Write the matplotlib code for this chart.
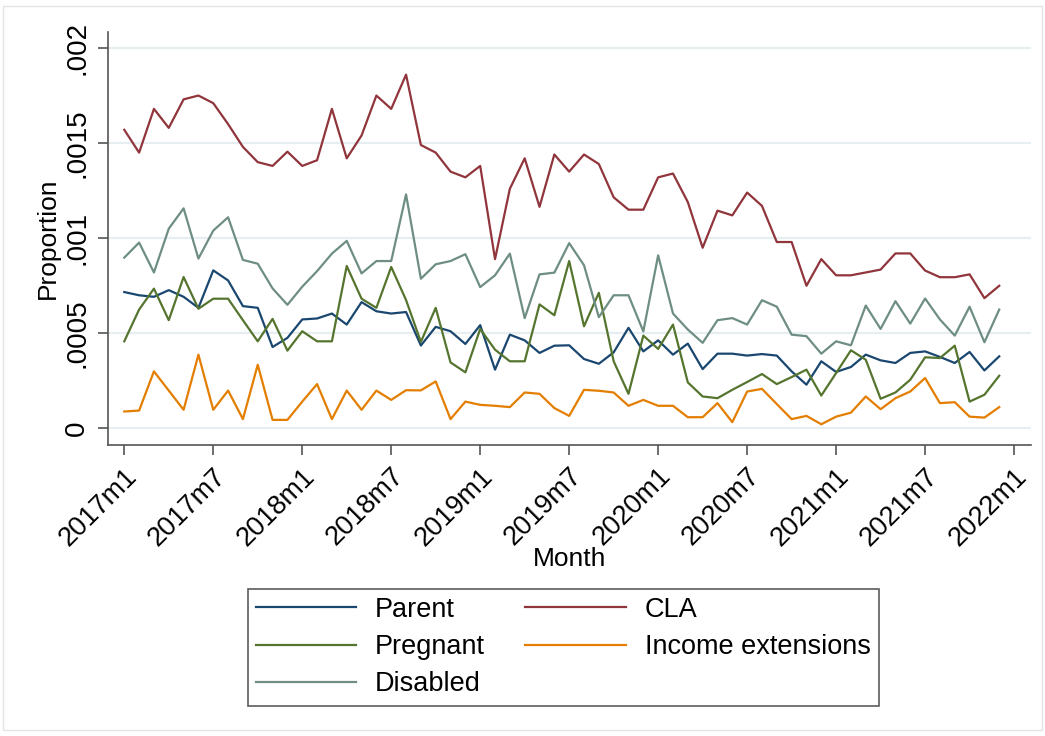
import numpy as np
import matplotlib
matplotlib.use('Agg')
import matplotlib.pyplot as plt
from matplotlib.patches import Rectangle
from matplotlib.transforms import ScaledTranslation

plt.rcParams['font.family'] = ['Liberation Sans', 'DejaVu Sans']

# monthly values, 2017m1 .. 2021m12 (units of 1e-4)
parent = [7.17, 7.0, 6.92, 7.27, 6.92, 6.34, 8.31, 7.78, 6.43, 6.34,
          4.28, 4.76, 5.73, 5.78, 6.04, 5.46, 6.64, 6.16, 6.04, 6.12,
          4.36, 5.34, 5.11, 4.44, 5.43, 3.09, 4.93, 4.63, 3.97, 4.35,
          4.37, 3.65, 3.4, 4.0, 5.29, 4.05, 4.63, 3.88, 4.46, 3.12,
          3.93, 3.93, 3.83, 3.91, 3.83, 3.0, 2.3, 3.53, 2.97, 3.23,
          3.88, 3.58, 3.44, 3.97, 4.05, 3.76, 3.44, 4.02, 3.05, 3.79]
cla = [15.7, 14.5, 16.8, 15.8, 17.3, 17.5, 17.1, 16.0, 14.8, 14.0,
       13.8, 14.55, 13.8, 14.1, 16.8, 14.2, 15.4, 17.5, 16.8, 18.6,
       14.9, 14.5, 13.5, 13.2, 13.8, 8.9, 12.6, 14.2, 11.65, 14.4,
       13.5, 14.4, 13.9, 12.15, 11.5, 11.5, 13.2, 13.4, 11.9, 9.5,
       11.45, 11.2, 12.4, 11.7, 9.8, 9.8, 7.5, 8.9, 8.05, 8.05,
       8.2, 8.35, 9.2, 9.2, 8.3, 7.95, 7.95, 8.1, 6.85, 7.5]
pregnant = [4.58, 6.25, 7.35, 5.69, 7.96, 6.29, 6.82, 6.82, 5.69, 4.58,
            5.76, 4.09, 5.11, 4.58, 4.58, 8.54, 6.82, 6.34, 8.49, 6.75,
            4.55, 6.34, 3.47, 2.95, 5.23, 4.14, 3.53, 3.53, 6.52, 5.95,
            8.8, 5.37, 7.13, 3.53, 1.82, 4.88, 4.18, 5.46, 2.42, 1.68,
            1.59, 2.03, 2.44, 2.86, 2.33, 2.7, 3.09, 1.73, 2.91, 4.11,
            3.61, 1.56, 1.89, 2.56, 3.74, 3.7, 4.35, 1.41, 1.77, 2.77]
income = [0.89, 0.94, 3.0, 1.99, 0.98, 3.88, 0.98, 1.99, 0.49, 3.35,
          0.45, 0.45, 1.41, 2.33, 0.49, 1.99, 0.98, 1.99, 1.5, 2.01,
          2.0, 2.47, 0.49, 1.41, 1.24, 1.19, 1.12, 1.89, 1.82, 1.07,
          0.66, 2.03, 1.98, 1.89, 1.19, 1.5, 1.19, 1.19, 0.59, 0.59,
          1.33, 0.33, 1.94, 2.08, 1.28, 0.49, 0.66, 0.22, 0.62, 0.83,
          1.68, 1.01, 1.59, 1.94, 2.65, 1.33, 1.38, 0.62, 0.57, 1.12]
disabled = [8.98, 9.77, 8.2, 10.5, 11.57, 8.93, 10.4, 11.1, 8.86, 8.66,
            7.36, 6.5, 7.45, 8.27, 9.19, 9.86, 8.15, 8.8, 8.8, 12.3,
            7.87, 8.63, 8.8, 9.16, 7.43, 8.05, 9.19, 5.8, 8.1, 8.19,
            9.74, 8.58, 5.85, 7.0, 7.0, 5.1, 9.1, 6.04, 5.2, 4.5,
            5.69, 5.8, 5.46, 6.74, 6.4, 4.93, 4.85, 3.93, 4.58, 4.37,
            6.46, 5.23, 6.69, 5.51, 6.83, 5.73, 4.88, 6.4, 4.53, 6.25]

x_labels = ['2017m1', '2017m7', '2018m1', '2018m7', '2019m1', '2019m7',
            '2020m1', '2020m7', '2021m1', '2021m7', '2022m1']
y_ticks = [0, 0.0005, 0.001, 0.0015, 0.002]
y_labels = ['0', '.0005', '.001', '.0015', '.002']

months = np.arange(len(parent))
scale = 1e-4

fig = plt.figure(figsize=(10.45, 7.36), dpi=100)
ax = fig.add_axes([0.1036, 0.3954, 0.8827, 0.5611])

series = [
    ('Parent', parent, '#1a476f'),
    ('CLA', cla, '#90353b'),
    ('Pregnant', pregnant, '#55752f'),
    ('Income extensions', income, '#e37e00'),
    ('Disabled', disabled, '#6e8e84'),
]
handles = {}
for name, vals, col in series:
    h, = ax.plot(months, np.array(vals) * scale, color=col, lw=1.6, label=name)
    handles[name] = h

ax.set_xlim(-1.08, 61.12)
ax.set_ylim(-0.000087, 0.002084)

ax.set_yticks(y_ticks)
ax.set_yticklabels(y_labels, rotation=90, va='center', fontsize=20)
ax.set_xticks(np.arange(0, 61, 6))
ax.set_xticklabels(x_labels, rotation=45, ha='right', rotation_mode='anchor', fontsize=19.5)
# nudge rotated labels a little left so their ends sit under the ticks
shift = ScaledTranslation(-5 / 100, 0, fig.dpi_scale_trans)
for lab in ax.get_xticklabels():
    lab.set_transform(lab.get_transform() + shift)

ax.grid(axis='y', color='#e6eef1', lw=1.6)
ax.set_axisbelow(True)
for s in ['top', 'right']:
    ax.spines[s].set_visible(False)
for s in ['left', 'bottom']:
    ax.spines[s].set_color('#555555')
    ax.spines[s].set_linewidth(1.2)
ax.tick_params(axis='both', direction='out', length=7, width=1.2, color='#555555')
ax.tick_params(axis='y', pad=6)
ax.tick_params(axis='x', pad=6)

ax.set_ylabel('Proportion', fontsize=19, labelpad=3)
ax.set_xlabel('Month', fontsize=19, labelpad=-3)

order = ['Parent', 'Pregnant', 'Disabled', 'CLA', 'Income extensions']
leg = fig.legend([handles[n] for n in order], order, ncol=2, loc='upper center',
                 bbox_to_anchor=(0.5388, 0.2188), fontsize=19.5, frameon=True,
                 fancybox=False, handlelength=3.7, handletextpad=0.7,
                 columnspacing=1.5, labelspacing=0.42, borderpad=0.3)
leg.get_frame().set_edgecolor('#333333')
leg.get_frame().set_linewidth(1.2)

fig.patches.append(Rectangle((0.003, 0.008), 0.994, 0.984, transform=fig.transFigure,
                             fill=False, edgecolor='#e4e4e4', lw=1))

fig.savefig('out.png', dpi=100)
